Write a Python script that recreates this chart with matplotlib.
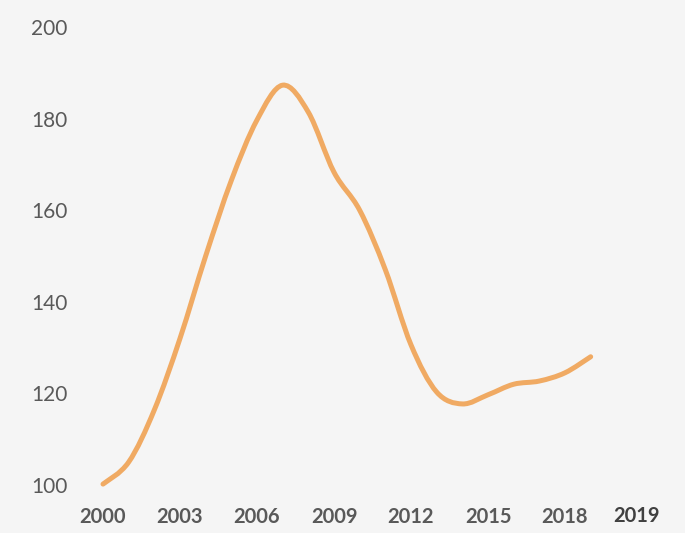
import matplotlib
matplotlib.use("Agg")
import matplotlib.pyplot as plt
from matplotlib.path import Path
from matplotlib.patches import PathPatch
import numpy as np

years = list(range(2000, 2020))
values = [100.2, 105, 116.4, 132, 150, 166.5, 179.7, 187.3, 181.4, 168.3,
          160, 147, 130.6, 120.3, 117.7, 119.7, 122, 122.7, 124.5, 128]
xtick_years = [2000, 2003, 2006, 2009, 2012, 2015, 2018]
ytick_vals = [100, 120, 140, 160, 180, 200]
extra_label = "2019"

BG = "#F5F5F5"
LINE = "#F0AA63"

W, H = 685, 533
fig = plt.figure(figsize=(W / 100, H / 100), dpi=100, facecolor=BG)
ax_left, ax_right, ax_bottom, ax_top = 80, 660, 48, 506
ax = fig.add_axes([ax_left / W, ax_bottom / H, (ax_right - ax_left) / W, (ax_top - ax_bottom) / H])
ax.set_facecolor(BG)

pxyr = (565 - 103) / 18.0
x0 = 2000 - (103 - ax_left) / pxyr
x1 = 2000 + (ax_right - 103) / pxyr
ax.set_xlim(x0, x1)
ax.set_ylim(100, 200)

# Smooth line (Catmull-Rom style Bezier, like spreadsheet smoothing)
pts = np.column_stack([years, values]).astype(float)
ext = np.vstack([pts[0], pts, pts[-1]])
verts = [tuple(pts[0])]
codes = [Path.MOVETO]
for i in range(len(pts) - 1):
    p0, p1, p2, p3 = ext[i], ext[i + 1], ext[i + 2], ext[i + 3]
    c1 = p1 + (p2 - p0) / 6.0
    c2 = p2 - (p3 - p1) / 6.0
    verts += [tuple(c1), tuple(c2), tuple(p2)]
    codes += [Path.CURVE4] * 3
patch = PathPatch(Path(verts, codes), facecolor="none", edgecolor=LINE,
                  linewidth=3.6, capstyle="round", joinstyle="round", clip_on=False)
ax.add_patch(patch)

for s in ax.spines.values():
    s.set_visible(False)

ax.set_yticks(ytick_vals)
ax.set_yticklabels([str(v) for v in ytick_vals], fontsize=15, color="#595959", family="Lato")
ax.set_xticks(xtick_years)
ax.set_xticklabels([str(v) for v in xtick_years], fontsize=14.5, color="#595959",
                   family="Lato", fontweight="bold")
ax.tick_params(axis="y", length=0, pad=9)
ax.tick_params(axis="x", length=0, pad=16)

fig.text(637 / W, 1 - 516 / H, extra_label, ha="center", va="center", fontsize=14.5,
         color="#404040", family="Lato", fontweight="bold")

fig.savefig("out.png", dpi=100, facecolor=BG)
